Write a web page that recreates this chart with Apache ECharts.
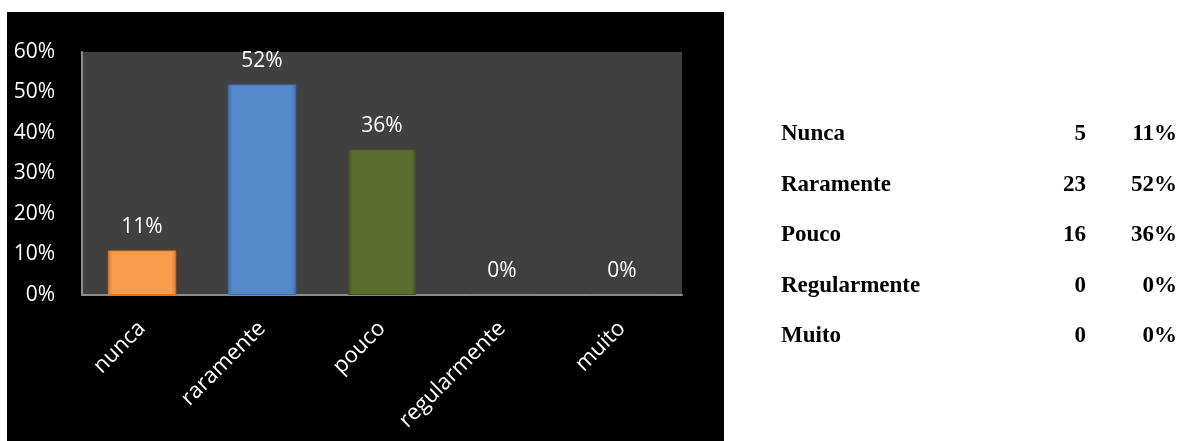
<!DOCTYPE html>
<html>
<head>
<meta charset="utf-8">
<script src="https://cdn.jsdelivr.net/npm/echarts@6/dist/echarts.min.js"></script>
<style>
html,body{margin:0;padding:0;background:#fff;}
#c{width:1179px;height:441px;}
</style>
</head>
<body>
<div id="c"></div>
<script>
// ---- data ----
var categories = ['nunca', 'raramente', 'pouco', 'regularmente', 'muito'];
var shares = [0.11, 0.52, 0.36, 0, 0];
var yTicks = [0, 0.1, 0.2, 0.3, 0.4, 0.5, 0.6];
var tableLabels = ['Nunca', 'Raramente', 'Pouco', 'Regularmente', 'Muito'];
var tableCounts = [5, 23, 16, 0, 0];
var tablePercents = ['11%', '52%', '36%', '0%', '0%'];
var barColors = [
  ['#d9782c', '#fb9d4b'],
  ['#3f6ea8', '#5689ca'],
  ['#3f5020', '#5b6e2f'],
  ['#888888', '#999999'],
  ['#888888', '#999999']
];

var chart = echarts.init(document.getElementById('c'), null, {renderer: 'canvas'});

function pct(v) { return Math.round(v * 100) + '%'; }

var barData = shares.map(function (v, i) {
  var d = barColors[i][0], b = barColors[i][1];
  return {
    value: v,
    itemStyle: {
      color: new echarts.graphic.LinearGradient(0, 0, 1, 0, [
        {offset: 0, color: d},
        {offset: 0.07, color: b},
        {offset: 0.93, color: b},
        {offset: 1, color: d}
      ]),
      borderColor: d,
      borderWidth: 1
    }
  };
});

var graphics = [{
  type: 'rect',
  left: 7, top: 12,
  shape: {width: 717, height: 429},
  style: {fill: '#000000'},
  z: -10
}];
var rowY0 = 146, rowStep = 50.5;
tableLabels.forEach(function (t, i) {
  var y = rowY0 + i * rowStep;
  var font = 'bold 23px "Liberation Serif", "Times New Roman", serif';
  graphics.push({type: 'text', x: 781, y: y, style: {text: t, font: font, fill: '#000', textAlign: 'left', textVerticalAlign: 'bottom'}});
  graphics.push({type: 'text', x: 1086, y: y, style: {text: String(tableCounts[i]), font: font, fill: '#000', textAlign: 'right', textVerticalAlign: 'bottom'}});
  graphics.push({type: 'text', x: 1177, y: y, style: {text: tablePercents[i], font: font, fill: '#000', textAlign: 'right', textVerticalAlign: 'bottom'}});
});

chart.setOption({
  backgroundColor: '#ffffff',
  animation: false,
  graphic: graphics,
  grid: {
    left: 82, top: 52, width: 600, height: 243,
    show: true, backgroundColor: '#404040', borderWidth: 0,
    containLabel: false
  },
  xAxis: {
    type: 'category',
    data: categories,
    axisLine: {show: true, lineStyle: {color: '#8c8c8c', width: 2}},
    axisTick: {show: false},
    axisLabel: {
      rotate: 45, color: '#ffffff', fontSize: 22,
      fontFamily: '"Open Sans", sans-serif', margin: 30, interval: 0
    },
    splitLine: {show: false}
  },
  yAxis: {
    type: 'value',
    min: yTicks[0], max: yTicks[yTicks.length - 1], interval: 0.1,
    axisLine: {show: true, lineStyle: {color: '#8c8c8c', width: 2}},
    axisTick: {show: false},
    splitLine: {show: false},
    axisLabel: {
      color: '#ffffff', fontSize: 21, fontFamily: '"Open Sans", sans-serif',
      margin: 27, formatter: function (v) { return pct(v); }
    }
  },
  series: [{
    type: 'bar',
    data: barData,
    barWidth: '57%',
    label: {
      show: true, position: 'top', distance: 13,
      color: '#ffffff', fontSize: 21, fontFamily: '"Open Sans", sans-serif',
      formatter: function (p) { return pct(p.value); }
    }
  }]
});
</script>
</body>
</html>
